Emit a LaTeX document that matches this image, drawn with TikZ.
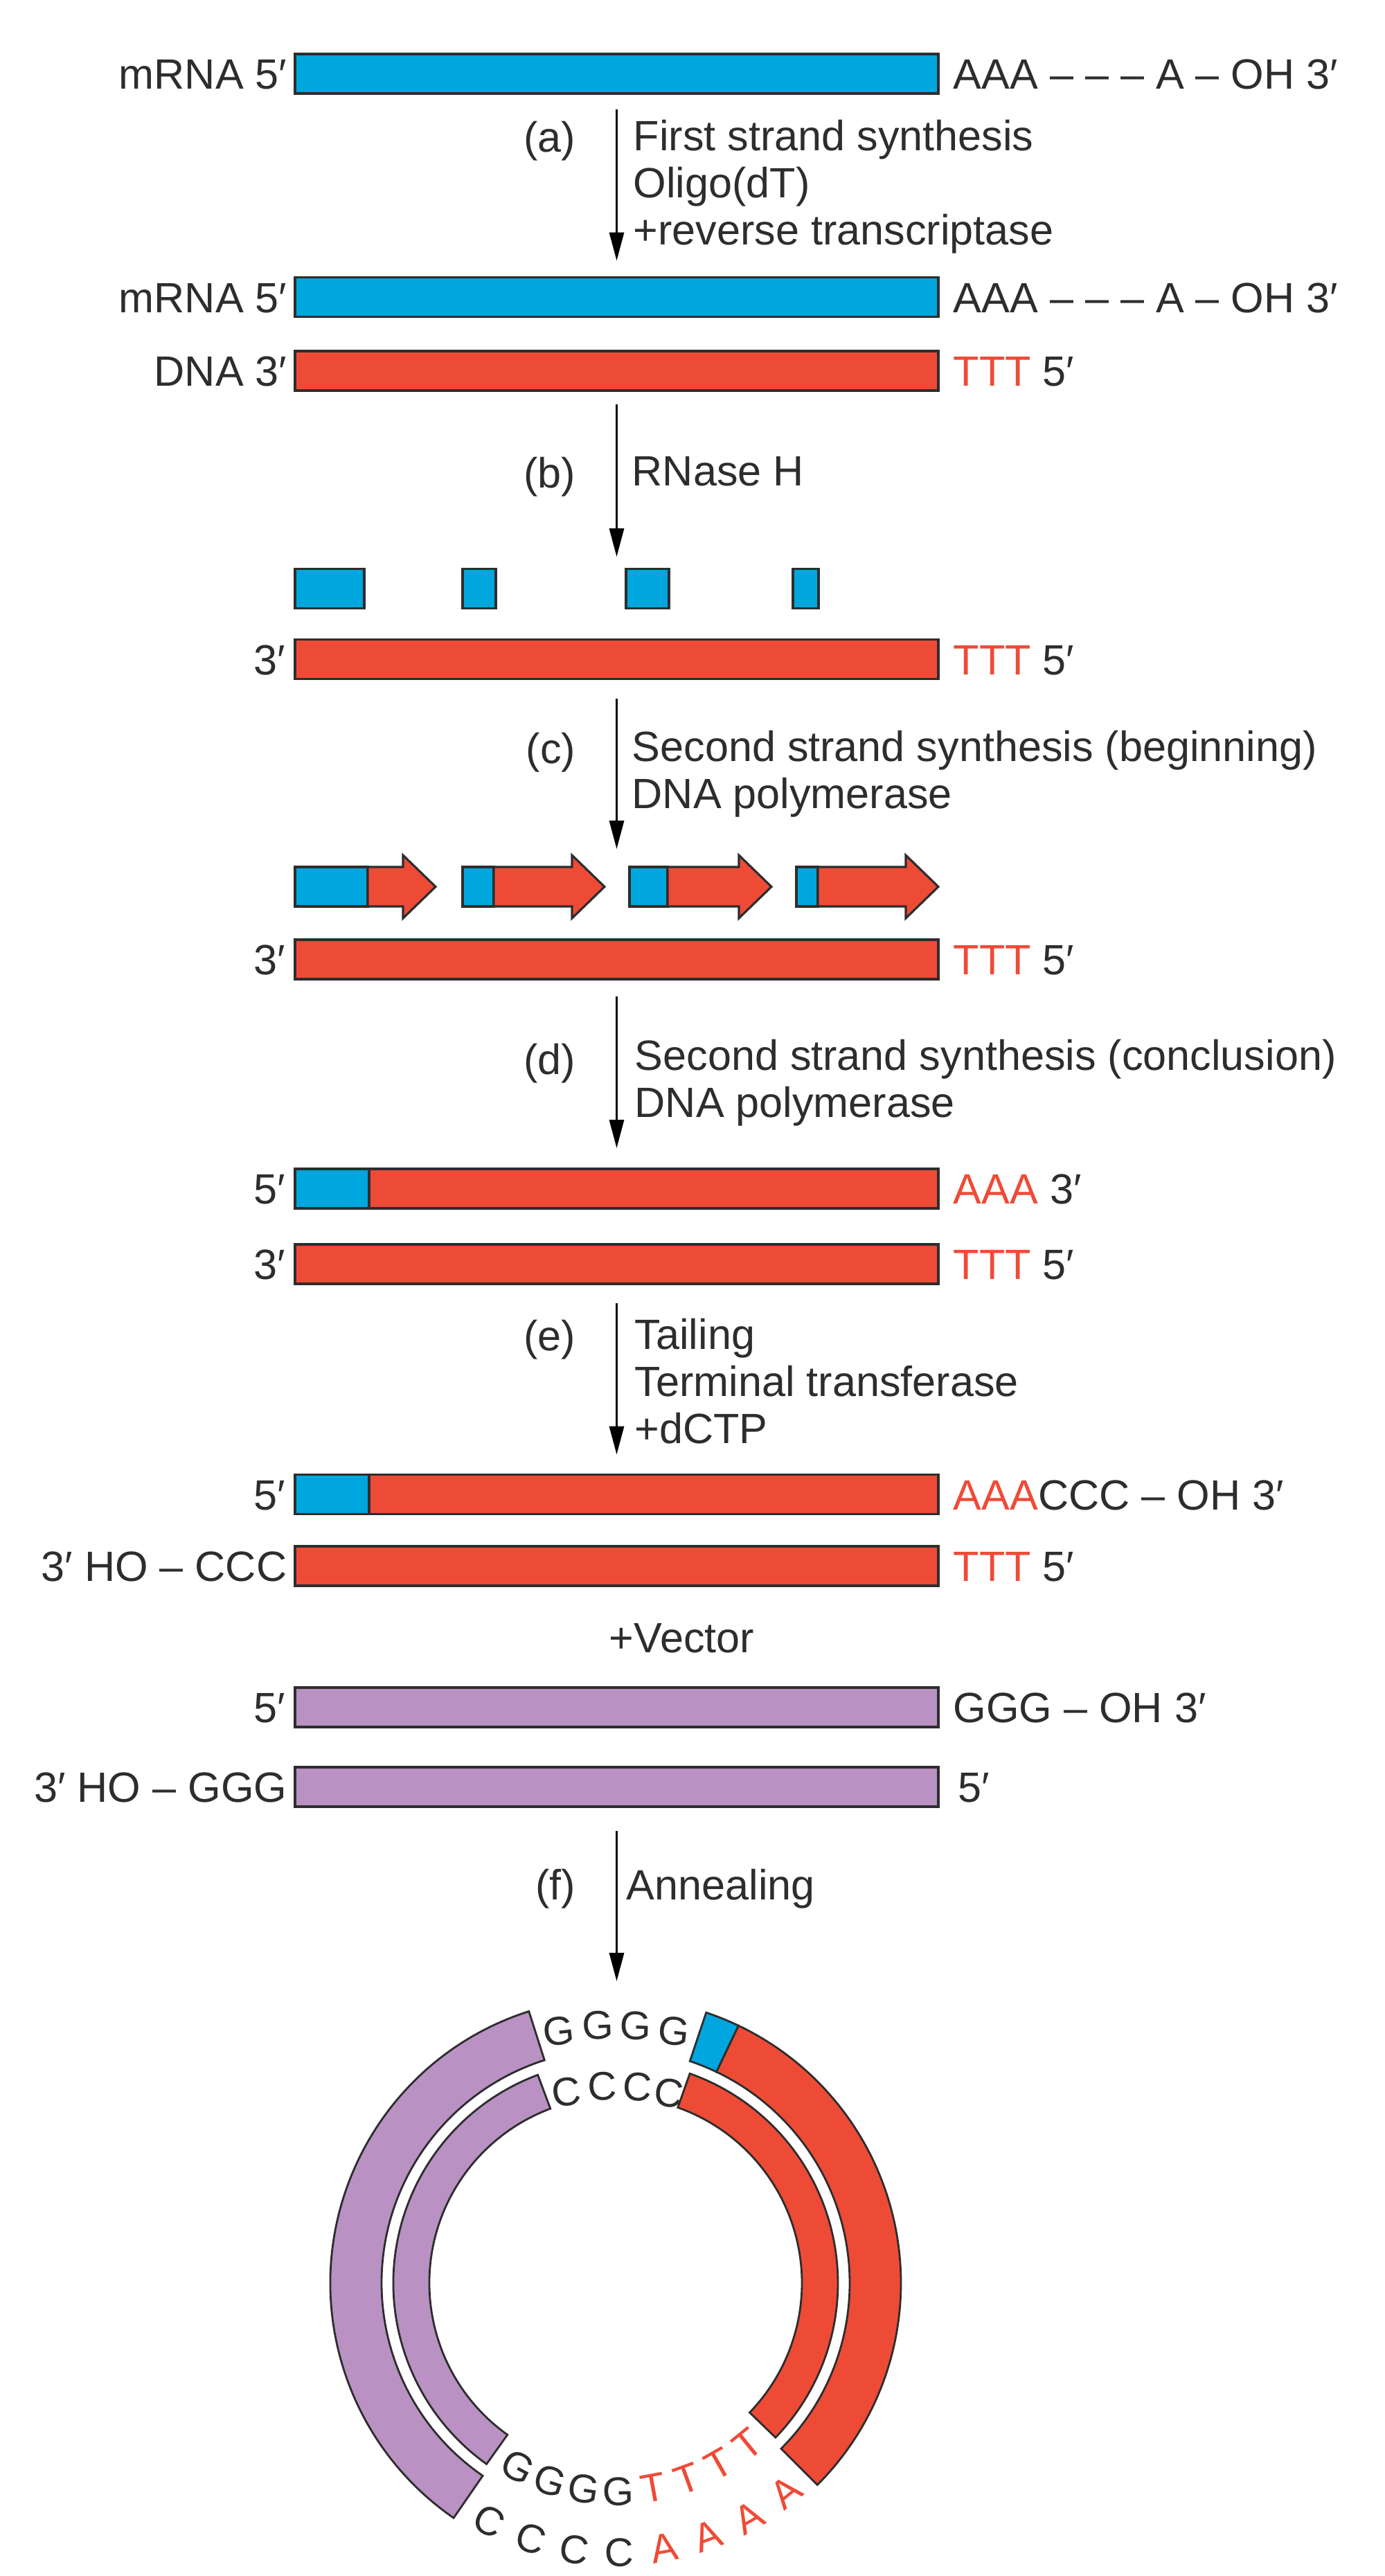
\documentclass[tikz,border=0pt]{standalone}
\usepackage{fontspec}
\setmainfont{Liberation Sans}
\usepackage{xcolor}
\usetikzlibrary{arrows.meta,positioning,calc}

\definecolor{rnablue}{RGB}{0,166,222}
\definecolor{dnared}{RGB}{238,75,55}
\definecolor{vecpurple}{RGB}{185,145,195}
\definecolor{inkgray}{RGB}{45,45,45}

\begin{document}
\begin{tikzpicture}[
    font=\fontsize{17.4pt}{19.4pt}\selectfont,
    text=inkgray,
    strand/.style={draw=inkgray, line width=0.9pt, minimum width=9.29cm, minimum height=0.57cm, inner sep=0pt, outer sep=0pt},
    piece/.style={draw=inkgray, line width=0.9pt, minimum height=0.57cm, inner sep=0pt, outer sep=0pt, anchor=west},
    ring/.style={draw=inkgray, line width=0.8pt},
    endl/.style={inner sep=0pt, text height=0.44cm, text depth=0pt},
    note/.style={inner sep=0pt, align=left, anchor=north west},
    flow/.style={-{Triangle[length=0.41cm, width=0.21cm]}, line width=0.9pt, draw=black},
    base/.style={font=\fontsize{16.5pt}{17pt}\selectfont, inner sep=0pt, text height=0.42cm, text depth=0pt}
]
\useasboundingbox (0,0) rectangle (20,-37.2);
\fill[white] (0,0) rectangle (20,-37.2);

% (a) first strand
\node[strand, fill=rnablue] (mrna1) at (8.905,-1.065) {};
\node[endl, left=0.11cm of mrna1] (mrna1l) {mRNA 5′};
\node[endl, right=0.21cm of mrna1] (mrna1r) {AAA – – – A – OH 3′};

\node[strand, fill=rnablue] (mrna2) at (8.905,-4.29) {};
\node[endl, left=0.11cm of mrna2] (mrna2l) {mRNA 5′};
\node[endl, right=0.21cm of mrna2] (mrna2r) {AAA – – – A – OH 3′};
\node[strand, fill=dnared] (dna1) at (8.905,-5.355) {};
\node[endl, left=0.11cm of dna1] (dna1l) {DNA 3′};
\node[endl, right=0.21cm of dna1] (dna1r) {\textcolor{dnared}{TTT} 5′};

\draw[flow, shorten <=0.23cm, shorten >=0.24cm] (mrna1) -- (mrna2);
\node[endl, anchor=east] (stepa) at (8.32,-1.97) {(a)};
\node[note] (notea) at (9.14,-1.72) {First strand synthesis\\Oligo(dT)\\+reverse transcriptase};

% (b) RNase H
\node[piece, fill=rnablue, minimum width=1.00cm] (frag1) at (4.26,-8.50) {};
\node[piece, fill=rnablue, minimum width=0.48cm] (frag2) at (6.68,-8.50) {};
\node[piece, fill=rnablue, minimum width=0.62cm] (frag3) at (9.04,-8.50) {};
\node[piece, fill=rnablue, minimum width=0.37cm] (frag4) at (11.45,-8.50) {};
\node[strand, fill=dnared] (dna2) at (8.905,-9.52) {};
\node[endl, left=0.13cm of dna2] (dna2l) {3′};
\node[endl, right=0.21cm of dna2] (dna2r) {\textcolor{dnared}{TTT} 5′};

\coordinate (cut) at (8.905,-8.04);
\draw[flow, shorten <=0.2cm] (dna1) -- (cut);
\node[endl, anchor=east] (stepb) at (8.32,-6.82) {(b)};
\node[note] (noteb) at (9.12,-6.59) {RNase H};

% (c) second strand, beginning
\foreach \n/\xa/\wb/\ws in {1/4.26/1.05/0.51, 2/6.68/0.45/1.13, 3/9.09/0.55/1.03, 4/11.50/0.31/1.27}{
  \node[piece, fill=rnablue, minimum width=\wb cm] (prim\n) at (\xa,-12.805) {};
  \draw[ring, line width=0.9pt, fill=dnared] (prim\n.north east) -- ++(\ws,0) -- ++(0,0.17)
    -- ++(0.47,-0.455) -- ++(-0.47,-0.455) -- ++(0,0.17) -- (prim\n.south east) -- cycle;
}
\node[strand, fill=dnared] (dna3) at (8.905,-13.855) {};
\node[endl, left=0.13cm of dna3] (dna3l) {3′};
\node[endl, right=0.21cm of dna3] (dna3r) {\textcolor{dnared}{TTT} 5′};

\coordinate (grow) at (8.905,-12.26);
\draw[flow, shorten <=0.28cm] (dna2) -- (grow);
\node[endl, anchor=east] (stepc) at (8.32,-10.80) {(c)};
\node[note] (notec) at (9.12,-10.54) {Second strand synthesis (beginning)\\DNA polymerase};

% (d) second strand, conclusion
\node[strand, fill=dnared] (ds1) at (8.905,-17.165) {};
\draw[ring, line width=0.9pt, fill=rnablue] (ds1.north west) rectangle ++(1.07,-0.57);
\node[endl, left=0.13cm of ds1] (ds1l) {5′};
\node[endl, right=0.21cm of ds1] (ds1r) {\textcolor{dnared}{AAA} 3′};
\node[strand, fill=dnared] (ds2) at (8.905,-18.255) {};
\node[endl, left=0.13cm of ds2] (ds2l) {3′};
\node[endl, right=0.21cm of ds2] (ds2r) {\textcolor{dnared}{TTT} 5′};

\draw[flow, shorten <=0.25cm, shorten >=0.30cm] (dna3) -- (ds1);
\node[endl, anchor=east] (stepd) at (8.32,-15.29) {(d)};
\node[note] (noted) at (9.16,-15.00) {Second strand synthesis (conclusion)\\DNA polymerase};

% (e) tailing
\node[strand, fill=dnared] (tail1) at (8.905,-21.58) {};
\draw[ring, line width=0.9pt, fill=rnablue] (tail1.north west) rectangle ++(1.07,-0.57);
\node[endl, left=0.13cm of tail1] (tail1l) {5′};
\node[endl, right=0.21cm of tail1] (tail1r) {\textcolor{dnared}{AAA}CCC – OH 3′};
\node[strand, fill=dnared] (tail2) at (8.905,-22.615) {};
\node[endl, left=0.11cm of tail2] (tail2l) {3′ HO – CCC};
\node[endl, right=0.21cm of tail2] (tail2r) {\textcolor{dnared}{TTT} 5′};

\draw[flow, shorten <=0.28cm, shorten >=0.29cm] (ds2) -- (tail1);
\node[endl, anchor=east] (stepe) at (8.32,-19.28) {(e)};
\node[note] (notee) at (9.16,-19.03) {Tailing\\Terminal transferase\\+dCTP};

% vector
\node[endl] (plusvec) at (9.845,-23.64) {+Vector};
\node[strand, fill=vecpurple] (vec1) at (8.905,-24.655) {};
\node[endl, left=0.13cm of vec1] (vec1l) {5′};
\node[endl, right=0.21cm of vec1] (vec1r) {GGG – OH 3′};
\node[strand, fill=vecpurple] (vec2) at (8.905,-25.805) {};
\node[endl, left=0.11cm of vec2] (vec2l) {3′ HO – GGG};
\node[endl, right=0.28cm of vec2] (vec2r) {5′};

% (f) annealing
\coordinate (ringtop) at (8.905,-28.61);
\draw[flow, shorten <=0.35cm] (vec2) -- (ringtop);
\node[endl, anchor=east] (stepf) at (8.32,-27.21) {(f)};
\node[note] (notef) at (9.04,-26.98) {Annealing};

\coordinate (ctr) at (8.89,-32.97);
\draw[ring, fill=vecpurple] ([shift={(ctr)}]107.7:4.12) arc[start angle=107.7, end angle=235.4, radius=4.12]
  -- ([shift={(ctr)}]235.4:3.38) arc[start angle=235.4, end angle=107.7, radius=3.38] -- cycle;
\draw[ring, fill=dnared] ([shift={(ctr)}]64.5:4.12) arc[start angle=64.5, end angle=-45, radius=4.12]
  -- ([shift={(ctr)}]-45:3.38) arc[start angle=-45, end angle=64.5, radius=3.38] -- cycle;
\draw[ring, fill=rnablue] ([shift={(ctr)}]71.5:4.12) arc[start angle=71.5, end angle=64.5, radius=4.12]
  -- ([shift={(ctr)}]64.5:3.38) arc[start angle=64.5, end angle=71.5, radius=3.38] -- cycle;
\draw[ring, fill=vecpurple] ([shift={(ctr)}]110.5:3.21) arc[start angle=110.5, end angle=234.5, radius=3.21]
  -- ([shift={(ctr)}]234.5:2.69) arc[start angle=234.5, end angle=110.5, radius=2.69] -- cycle;
\draw[ring, fill=dnared] ([shift={(ctr)}]70.5:3.21) arc[start angle=70.5, end angle=-44, radius=3.21]
  -- ([shift={(ctr)}]-44:2.69) arc[start angle=-44, end angle=70.5, radius=2.69] -- cycle;

\foreach \a in {102.7,94,85.5,77}
  \node[base, rotate=(\a-90)*0.5] at ([shift={(ctr)}]\a:3.74) {G};
\foreach \a in {104.4,93.8,83.6,74.4}
  \node[base, rotate=(\a-90)*0.5] at ([shift={(ctr)}]\a:2.86) {C};
\foreach \a in {242,251.6,261.2,270.8}{
  \node[base, rotate=\a+90] at ([shift={(ctr)}]\a:3.00) {G};
  \node[base, rotate=\a+90] at ([shift={(ctr)}]\a:3.88) {C};
}
\foreach \a in {280.4,290,299.6,309.2}{
  \node[base, text=dnared, rotate=\a+90] at ([shift={(ctr)}]\a:3.00) {T};
  \node[base, text=dnared, rotate=\a+90] at ([shift={(ctr)}]\a:3.88) {A};
}
\end{tikzpicture}
\end{document}
